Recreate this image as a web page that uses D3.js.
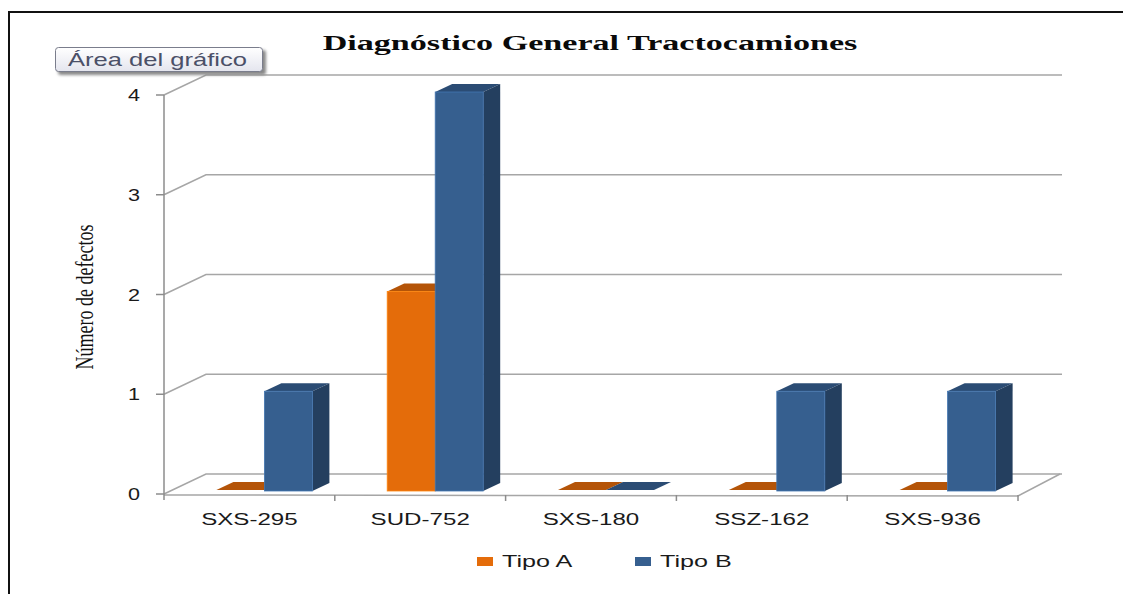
<!DOCTYPE html>
<html>
<head>
<meta charset="utf-8">
<script src="https://cdn.jsdelivr.net/npm/d3@7"></script>
<style>
  body { margin: 0; background: #fff; }
  svg { display: block; }
</style>
</head>
<body>
<div id="chart"></div>
<script>
// Chart data
const categories = ["SXS-295", "SUD-752", "SXS-180", "SSZ-162", "SXS-936"];
const series = ["Tipo A", "Tipo B"];
const tipoA = [0, 2, 0, 0, 0];
const tipoB = [1, 4, 0, 1, 1];
const yTicks = [0, 1, 2, 3, 4];

const colors = {
  "Tipo A": { front: "#e46c0a", top: "#b45408", side: "#8e4206" },
  "Tipo B": { front: "#365f8f", top: "#2b4c74", side: "#243f5f" }
};

const W = 1123, H = 594;
const sx = 1.42; // the source image is stretched horizontally
const wall = { dx: 42, dy: -20 };
const depth = { dx: 17, dy: -8 };

const svg = d3.select("#chart").append("svg")
  .attr("width", W)
  .attr("height", H);

// outer frame
svg.append("rect")
  .attr("x", 9).attr("y", 12)
  .attr("width", W).attr("height", H)
  .attr("fill", "none")
  .attr("stroke", "#111")
  .attr("stroke-width", 2);

const x = d3.scaleBand().domain(categories).range([164, 1018]);
const y = d3.scaleLinear().domain([0, 4]).range([494, 95]);
const xs = d3.scaleBand().domain(series).range([-33, 63]);

// back wall gridlines with the diagonal to the front axis
yTicks.forEach(v => {
  const yy = y(v);
  svg.append("path")
    .attr("d", `M164,${yy}L${164 + wall.dx},${yy + wall.dy}L1062,${yy + wall.dy}`)
    .attr("fill", "none")
    .attr("stroke", "#a6a6a6")
    .attr("stroke-width", 1.5);
});

// floor front edge and right edge
svg.append("path")
  .attr("d", `M164,${y(0) + 1}L1018,${y(0) + 2}L${1018 + wall.dx},${y(0) + wall.dy}`)
  .attr("fill", "none")
  .attr("stroke", "#a6a6a6")
  .attr("stroke-width", 1.5);

// y axis line and ticks
svg.append("line")
  .attr("x1", 164).attr("x2", 164)
  .attr("y1", y(4)).attr("y2", y(0) + 6)
  .attr("stroke", "#8c8c8c")
  .attr("stroke-width", 1.5);

yTicks.forEach(v => {
  svg.append("line")
    .attr("x1", 156).attr("x2", 164)
    .attr("y1", y(v)).attr("y2", y(v))
    .attr("stroke", "#8c8c8c")
    .attr("stroke-width", 1.5);
  svg.append("text")
    .attr("transform", `translate(140,${y(v) + 6}) scale(1.35,1)`)
    .attr("text-anchor", "end")
    .attr("font-family", "Liberation Sans, Arial, sans-serif")
    .attr("font-size", 16)
    .attr("fill", "#1a1a1a")
    .text(v);
});

// category ticks on the floor edge
categories.concat([null]).forEach((c, i) => {
  const xx = c ? x(c) : x.range()[1];
  if (i === 0) return;
  svg.append("line")
    .attr("x1", xx).attr("x2", xx)
    .attr("y1", y(0) + 1).attr("y2", y(0) + 7)
    .attr("stroke", "#8c8c8c")
    .attr("stroke-width", 1.5);
});

// bars, drawn as 3D boxes
const base = y(0) - 3;
categories.forEach((c, i) => {
  const center = x(c) + x.bandwidth() / 2;
  [tipoA[i], tipoB[i]].forEach((v, j) => {
    const s = series[j];
    const col = colors[s];
    const x0 = center + xs(s);
    const x1 = x0 + xs.bandwidth();
    const top = Math.min(y(v) - 3, base - 1);
    const g = svg.append("g");
    // top face
    g.append("path")
      .attr("d", `M${x0},${top}L${x0 + depth.dx},${top + depth.dy}L${x1 + depth.dx},${top + depth.dy}L${x1},${top}Z`)
      .attr("fill", col.top);
    if (v > 0) {
      // side face
      g.append("path")
        .attr("d", `M${x1},${top}L${x1 + depth.dx},${top + depth.dy}L${x1 + depth.dx},${base + depth.dy}L${x1},${base}Z`)
        .attr("fill", col.side);
      // front face
      g.append("rect")
        .attr("x", x0).attr("y", top)
        .attr("width", x1 - x0).attr("height", base - top)
        .attr("fill", col.front)
        .attr("stroke", d3.color(col.front).brighter(0.6))
        .attr("stroke-width", 0.8);
    }
  });
});

// category labels
categories.forEach(c => {
  svg.append("text")
    .attr("transform", `translate(${x(c) + x.bandwidth() / 2},525) scale(${sx},1)`)
    .attr("text-anchor", "middle")
    .attr("font-family", "Liberation Sans, Arial, sans-serif")
    .attr("font-size", 17)
    .attr("fill", "#1a1a1a")
    .text(c);
});

// title
svg.append("text")
  .attr("transform", `translate(590,50) scale(1.55,1)`)
  .attr("text-anchor", "middle")
  .attr("font-family", "Liberation Serif, Times New Roman, serif")
  .attr("font-weight", "bold")
  .attr("font-size", 22)
  .attr("fill", "#0a0a0a")
  .text("Diagnóstico General Tractocamiones");

// y axis title
svg.append("text")
  .attr("transform", `translate(93,297) scale(${sx},1) rotate(-90)`)
  .attr("text-anchor", "middle")
  .attr("font-family", "Liberation Serif, Times New Roman, serif")
  .attr("font-size", 18)
  .attr("fill", "#111")
  .text("Número de defectos");

// legend
const legendX = [477, 635];
series.forEach((s, j) => {
  svg.append("rect")
    .attr("x", legendX[j]).attr("y", 557)
    .attr("width", 16).attr("height", 9)
    .attr("fill", colors[s].front);
  svg.append("text")
    .attr("transform", `translate(${legendX[j] + 25},567) scale(1.48,1)`)
    .attr("font-family", "Liberation Sans, Arial, sans-serif")
    .attr("font-size", 17)
    .attr("fill", "#1a1a1a")
    .text(s);
});

// "Área del gráfico" tooltip
const defs = svg.append("defs");
const grad = defs.append("linearGradient")
  .attr("id", "tipGrad").attr("x1", 0).attr("y1", 0).attr("x2", 0).attr("y2", 1);
grad.append("stop").attr("offset", "0%").attr("stop-color", "#ffffff");
grad.append("stop").attr("offset", "100%").attr("stop-color", "#e4e5ee");
defs.append("filter").attr("id", "blur")
  .append("feGaussianBlur").attr("stdDeviation", 1.5);

svg.append("rect")
  .attr("x", 58).attr("y", 50)
  .attr("width", 208).attr("height", 25)
  .attr("rx", 3)
  .attr("fill", "#888")
  .attr("filter", "url(#blur)");
svg.append("rect")
  .attr("x", 55.5).attr("y", 47.5)
  .attr("width", 207).attr("height", 24)
  .attr("rx", 3)
  .attr("fill", "url(#tipGrad)")
  .attr("stroke", "#7a7d8c");
svg.append("text")
  .attr("transform", `translate(68,66) scale(1.42,1)`)
  .attr("font-family", "Liberation Sans, Arial, sans-serif")
  .attr("font-size", 18)
  .attr("fill", "#4b5068")
  .text("Área del gráfico");
</script>
</body>
</html>
